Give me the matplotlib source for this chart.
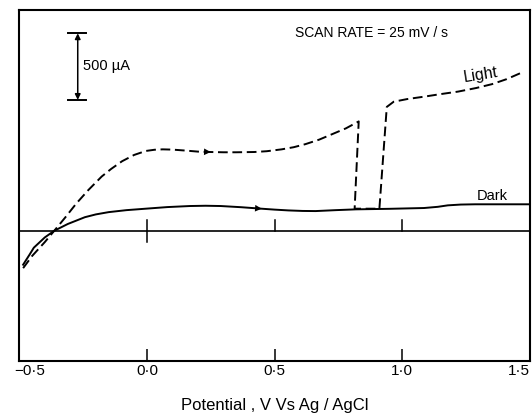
import numpy as np
import matplotlib
matplotlib.use("Agg")
import matplotlib.pyplot as plt
from matplotlib.transforms import ScaledTranslation

# ---- data (potential in V vs Ag/AgCl, current in microampere) ----
light_v = [-0.485, -0.45, -0.40, -0.363, -0.32, -0.277, -0.23, -0.177, -0.14, -0.097,
           -0.05, -0.004, 0.03, 0.062, 0.10, 0.15, 0.20, 0.249, 0.30, 0.35, 0.421,
           0.47, 0.528, 0.575, 0.621, 0.675, 0.727, 0.78, 0.830,
           0.814, 0.911,
           0.940, 0.967, 1.02, 1.086, 1.15, 1.219, 1.29, 1.352, 1.41, 1.465]
light_i = [-276, -185, -80, 5, 105, 209, 310, 413, 470, 528,
           575, 605, 614, 617, 615, 608, 600, 597, 595, 595, 597,
           603, 617, 633, 656, 690, 732, 775, 827,
           171, 171,
           936, 975, 995, 1013, 1032, 1051, 1078, 1107, 1145, 1191]

dark_v = [-0.485, -0.46, -0.443, -0.40, -0.363, -0.31, -0.243, -0.20, -0.15, -0.08,
          -0.004, 0.08, 0.169, 0.23, 0.289, 0.37, 0.448, 0.50, 0.554, 0.61, 0.661,
          0.74, 0.820, 0.95, 1.086, 1.14, 1.179, 1.23, 1.286, 1.40, 1.50]
dark_i = [-250, -175, -122, -45, 5, 56, 107, 128, 145, 160,
          171, 183, 191, 193, 191, 182, 171, 164, 158, 154, 153,
          160, 166, 170, 176, 185, 196, 202, 204, 204, 204]

xticks = [-0.5, 0.0, 0.5, 1.0, 1.5]
xtick_labels = ["\u22120\u00b75", "0\u00b70", "0\u00b75", "1\u00b70", "1\u00b75"]
zero_line_ticks = [0.0, 0.5, 1.0]
scale_bar_uA = 500
x_label = "Potential , V Vs Ag / AgCl"
scan_text = "SCAN RATE = 25 mV / s"

plt.rcParams['font.family'] = ['Liberation Sans', 'DejaVu Sans']

fig = plt.figure(figsize=(5.32, 4.15), dpi=100)
ax = fig.add_axes([19.3 / 532, 53.6 / 415, (529.7 - 19.3) / 532, (361.4 - 10.2) / 415])
ax.set_xlim(-0.5, 1.5)
ax.set_ylim(-977, 1663)

for s in ax.spines.values():
    s.set_linewidth(1.5)

ax.set_yticks([])
ax.set_xticks(xticks)
ax.set_xticklabels(xtick_labels, fontsize=11)
ax.tick_params(axis='x', direction='in', length=8.6, width=1.1, pad=2)
# shift the edge labels inward as in the reference
lbls = ax.get_xticklabels()
lbls[0].set_transform(lbls[0].get_transform() + ScaledTranslation(10 / 100, 0, fig.dpi_scale_trans))
lbls[-1].set_transform(lbls[-1].get_transform() + ScaledTranslation(-11 / 100, 0, fig.dpi_scale_trans))

ax.set_xlabel(x_label, fontsize=12, labelpad=14)

# zero line with ticks
ax.axhline(0, color='k', lw=1.2)
for i, v in enumerate(zero_line_ticks):
    lo = -80 if i == 0 else 0
    ax.plot([v, v], [lo, 85], color='k', lw=1.1)

# curves
ax.plot(light_v, light_i, color='k', lw=1.4, ls=(0, (5, 2.4)))
ax.plot(dark_v, dark_i, color='k', lw=1.4)

# direction arrows on the curves
jump = int(np.argmax(np.diff(light_v) < 0)) + 1
for v, xs, ys in [(0.25, light_v[:jump], light_i[:jump]), (0.45, dark_v, dark_i)]:
    y0 = np.interp(v - 0.03, xs, ys)
    y1 = np.interp(v, xs, ys)
    ax.annotate('', xy=(v, y1), xytext=(v - 0.03, y0),
                arrowprops=dict(arrowstyle='-|>', color='k', lw=0, mutation_scale=12,
                                shrinkA=0, shrinkB=0))

# scale bar
sb_x, sb_bottom = -0.271, 989
ax.annotate('', xy=(sb_x, sb_bottom + scale_bar_uA), xytext=(sb_x, sb_bottom),
            arrowprops=dict(arrowstyle='<|-|>', color='k', lw=1.1, mutation_scale=8,
                            shrinkA=0, shrinkB=0))
for yy in (sb_bottom, sb_bottom + scale_bar_uA):
    ax.plot([sb_x - 0.037, sb_x + 0.033], [yy, yy], color='k', lw=1.4)
ax.text(-0.25, 1244, "500 \u00b5A", fontsize=10.5, ha='left', va='center')

ax.text(0.58, 1492, scan_text, fontsize=10, ha='left', va='center')
ax.text(1.309, 1179, "Light", fontsize=11.5, ha='center', va='center', rotation=9)
ax.text(1.352, 266, "Dark", fontsize=10.5, ha='center', va='center')

fig.savefig("out.png", dpi=100, facecolor='white')
